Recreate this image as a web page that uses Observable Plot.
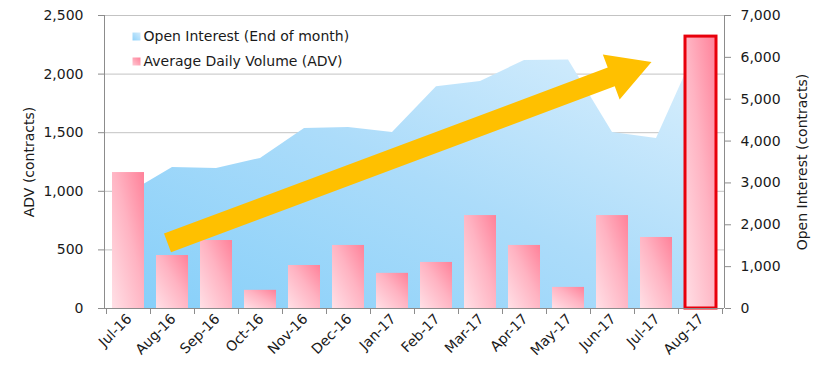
<!DOCTYPE html>
<html>
<head>
<meta charset="utf-8">
<script src="https://cdn.jsdelivr.net/npm/d3@7"></script>
<script src="https://cdn.jsdelivr.net/npm/@observablehq/plot@0.6"></script>
<style>
  html, body { margin: 0; padding: 0; background: #fff; }
  #chart svg { display: block; }
</style>
</head>
<body>
<div id="chart"></div>
<script>
// ---- data ----
const months = ["Jul-16","Aug-16","Sep-16","Oct-16","Nov-16","Dec-16","Jan-17","Feb-17","Mar-17","Apr-17","May-17","Jun-17","Jul-17","Aug-17"];
const adv = [1160, 452, 580, 155, 367, 538, 300, 393, 793, 538, 180, 793, 606, 2320];
const openInterest = [2750, 3370, 3345, 3585, 4300, 4325, 4205, 5300, 5425, 5925, 5935, 4205, 4060, 6400];
const advTicks = [0, 500, 1000, 1500, 2000, 2500];
const oiTicks = [0, 1000, 2000, 3000, 4000, 5000, 6000, 7000];
const legendLabels = ["Open Interest (End of month)", "Average Daily Volume (ADV)"];
const highlightMonth = "Aug-17";
const arrowFrom = {month: "Aug-16", adv: 555};
const arrowTo = {month: "Jul-17", adv: 2100};
const axisLabels = {left: "ADV (contracts)", right: "Open Interest (contracts)"};

const ADV_MAX = 2500, OI_MAX = 7000;
const toAdv = v => v * ADV_MAX / OI_MAX;
const rows = months.map((m, i) => ({month: m, adv: adv[i], oi: openInterest[i], oiScaled: toAdv(openInterest[i])}));
const fmt = d3.format(",");

// ---- helper marks ----
function defsMark() {
  const g = d3.create("svg:g");
  const defs = g.append("defs");
  const grad = (id, stops, x1, y1, x2, y2) => {
    const lg = defs.append("linearGradient").attr("id", id)
      .attr("x1", x1).attr("y1", y1).attr("x2", x2).attr("y2", y2);
    stops.forEach(([o, c]) => lg.append("stop").attr("offset", o).attr("stop-color", c));
  };
  grad("advGrad", [[0, "#ffe0e6"], [0.55, "#ffb3c2"], [1, "#ff8199"]], 0, 1, 1, 0);
  grad("oiGrad", [[0, "#86cff9"], [0.5, "#acdcfa"], [1, "#dcf0fd"]], 0, 1, 1, 0);
  grad("oiSw", [[0, "#8fd2fa"], [1, "#d4ecfc"]], 0, 1, 1, 0);
  grad("advSw", [[0, "#ffc8d3"], [1, "#ff8199"]], 0, 1, 1, 0);
  return g.node();
}

function bandCenter(x, v) {
  const bw = typeof x.bandwidth === "function" ? x.bandwidth() / 2 : 0;
  return x(v) + bw;
}

function arrowMark(index, scales) {
  const {x, y} = scales;
  const off = -4.5;
  const x0 = bandCenter(x, arrowFrom.month) + off, y0 = y(arrowFrom.adv);
  const x1 = bandCenter(x, arrowTo.month) + off, y1 = y(arrowTo.adv);
  const dx = x1 - x0, dy = y1 - y0, len = Math.hypot(dx, dy);
  const ux = dx / len, uy = dy / len, nx = -uy, ny = ux;
  const shaft = 10, head = 24, headLen = 43;
  const bx = x1 - ux * headLen, by = y1 - uy * headLen;
  const pts = [
    [x0 + nx * shaft, y0 + ny * shaft],
    [bx + nx * shaft, by + ny * shaft],
    [bx + nx * head, by + ny * head],
    [x1, y1],
    [bx - nx * head, by - ny * head],
    [bx - nx * shaft, by - ny * shaft],
    [x0 - nx * shaft, y0 - ny * shaft]
  ];
  const g = d3.create("svg:g");
  g.append("polygon").attr("points", pts.map(p => p.join(",")).join(" ")).attr("fill", "#ffc000");
  return g.node();
}

function axisLinesMark(index, scales, values, dimensions) {
  const {x} = scales;
  const {width, height, marginLeft, marginRight, marginTop, marginBottom} = dimensions;
  const left = marginLeft, right = width - marginRight, top = marginTop, bottom = height - marginBottom;
  const g = d3.create("svg:g").attr("stroke", "#8c8c8c").attr("stroke-width", 1).attr("fill", "none");
  g.append("line").attr("x1", left + 0.5).attr("x2", left + 0.5).attr("y1", top).attr("y2", bottom);
  g.append("line").attr("x1", right + 0.5).attr("x2", right + 0.5).attr("y1", top).attr("y2", bottom);
  g.append("line").attr("x1", left).attr("x2", right).attr("y1", bottom + 0.5).attr("y2", bottom + 0.5);
  const step = typeof x.step === "function" ? x.step() : (right - left) / months.length;
  const bounds = months.map(m => bandCenter(x, m) - step / 2);
  bounds.push(bandCenter(x, months[months.length - 1]) + step / 2);
  bounds.forEach(b => {
    const bx = Math.round(b) + 0.5;
    g.append("line").attr("x1", bx).attr("x2", bx).attr("y1", bottom).attr("y2", bottom + 6);
  });
  return g.node();
}

const chart = Plot.plot({
  width: 829,
  height: 373,
  marginTop: 15,
  marginRight: 105,
  marginBottom: 65,
  marginLeft: 104,
  style: {fontFamily: "DejaVu Sans, Verdana, sans-serif", fontSize: "14px", color: "#1a1a1a", background: "#fff"},
  x: {type: "band", domain: months, paddingInner: 0.28, paddingOuter: 0.14, axis: null},
  y: {domain: [0, ADV_MAX], axis: null},
  marks: [
    defsMark,
    Plot.gridY(advTicks.filter(v => v > 0), {stroke: "#c3c3c3", strokeOpacity: 1}),
    Plot.areaY(rows, {x: "month", y: "oiScaled", fill: "url(#oiGrad)", curve: "linear"}),
    Plot.barY(rows, {x: "month", y: "adv", fill: "url(#advGrad)"}),
    Plot.barY(rows.filter(d => d.month === highlightMonth), {x: "month", y: "adv", fill: "none", stroke: "#e8000b", strokeWidth: 3, insetLeft: 1, insetRight: 0}),
    arrowMark,
    axisLinesMark,
    Plot.axisY({ticks: advTicks, tickFormat: fmt, tickSize: 6, tickPadding: 15, stroke: "#8c8c8c",
      label: axisLabels.left, labelAnchor: "center", labelOffset: 80, labelArrow: "none"}),
    Plot.axisY({anchor: "right", ticks: oiTicks.map(toAdv), tickFormat: v => fmt(Math.round(v * OI_MAX / ADV_MAX)),
      tickSize: 6, tickPadding: 10, stroke: "#8c8c8c",
      label: axisLabels.right, labelAnchor: "center", labelOffset: 82, labelArrow: "none"}),
    Plot.axisX({tickRotate: -45, tickSize: 0, tickPadding: 8, dx: 1, label: null}),
    Plot.dot([legendLabels[0]], {frameAnchor: "top-left", dx: 32, dy: 21, symbol: "square", r: 4.5, fill: "url(#oiSw)", stroke: "none"}),
    Plot.dot([legendLabels[1]], {frameAnchor: "top-left", dx: 32, dy: 46, symbol: "square", r: 4.5, fill: "url(#advSw)", stroke: "none"}),
    Plot.text([legendLabels[0]], {text: d => d, frameAnchor: "top-left", dx: 39, dy: 21, textAnchor: "start", lineAnchor: "middle", fontSize: 14, fill: "#1a1a1a"}),
    Plot.text([legendLabels[1]], {text: d => d, frameAnchor: "top-left", dx: 39, dy: 46, textAnchor: "start", lineAnchor: "middle", fontSize: 14, fill: "#1a1a1a"})
  ]
});
document.getElementById("chart").appendChild(chart);
</script>
</body>
</html>
